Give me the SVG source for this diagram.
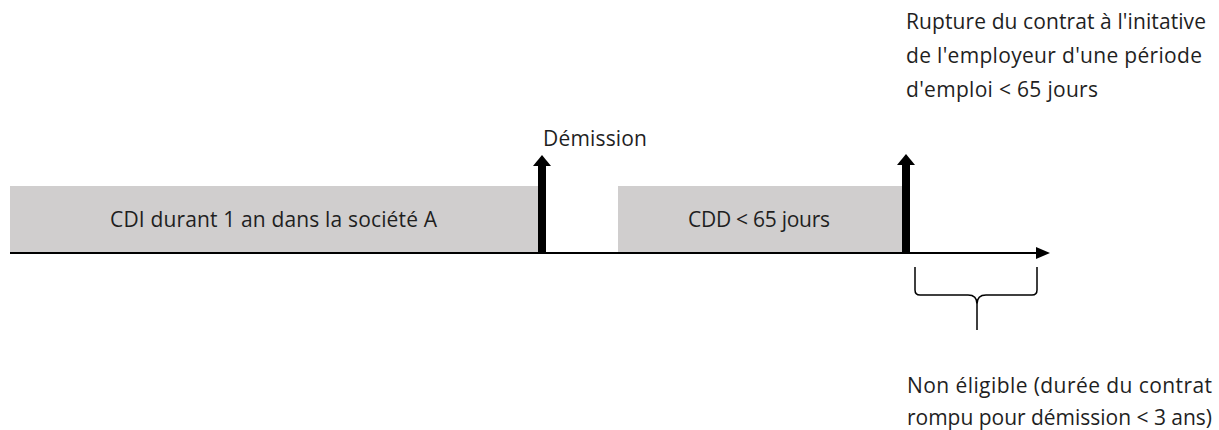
<svg xmlns="http://www.w3.org/2000/svg" width="1219" height="430" viewBox="0 0 1219 430">
<defs>
<style>
.t{font-family:"Open Sans","Liberation Sans",sans-serif;font-size:21px;fill:#1f1f1f}
.box{fill:#d0cece}
.up{stroke:#000;stroke-width:8;fill:none}
</style>
<marker id="ah" markerWidth="14" markerHeight="12" refX="0" refY="6" orient="auto" markerUnits="userSpaceOnUse">
<path d="M0,0 L14,6 L0,12 Z" fill="#000"/>
</marker>
</defs>
<rect width="1219" height="430" fill="#fff"/>
<g id="cdi">
<rect class="box" x="10" y="186" width="531" height="66"/>
<text class="t" x="110" y="227" textLength="327" lengthAdjust="spacing">CDI durant 1 an dans la société A</text>
</g>
<g id="cdd">
<rect class="box" x="618" y="186" width="285" height="66"/>
<text class="t" x="688" y="227" textLength="142" lengthAdjust="spacing">CDD &lt; 65 jours</text>
</g>
<g id="demission">
<text class="t" x="543" y="146" textLength="104" lengthAdjust="spacing">Démission</text>
</g>
<g id="rupture">
<text class="t" x="906" y="29" textLength="300" lengthAdjust="spacing">Rupture du contrat à l'initative</text>
<text class="t" x="906" y="63" textLength="296" lengthAdjust="spacing">de l'employeur d'une période</text>
<text class="t" x="906" y="97" textLength="192" lengthAdjust="spacing">d'emploi &lt; 65 jours</text>
</g>
<g id="non-eligible">
<text class="t" x="907" y="393" textLength="305" lengthAdjust="spacing">Non éligible (durée du contrat</text>
<text class="t" x="907" y="425" textLength="305" lengthAdjust="spacing">rompu pour démission &lt; 3 ans)</text>
</g>
<g id="connectors">
<line x1="10" y1="253" x2="1036" y2="253" stroke="#000" stroke-width="2" marker-end="url(#ah)"/>
<line class="up" x1="542" y1="253" x2="542" y2="164"/>
<path d="M533,166 L542,155 L551,166 Z" fill="#000"/>
<line class="up" x1="906" y1="253" x2="906" y2="163"/>
<path d="M897,165 L906,154 L915,165 Z" fill="#000"/>
<path d="M915,267 L915,290 Q915,295 920,295 L968,295 Q977,295 977,304 L977,330 M977,304 Q977,295 986,295 L1032,295 Q1037,295 1037,290 L1037,267" fill="none" stroke="#000" stroke-width="1.5"/>
</g>
</svg>
